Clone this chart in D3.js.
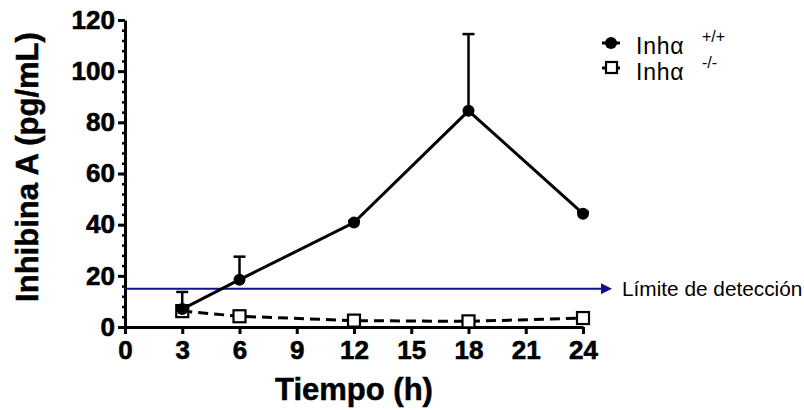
<!DOCTYPE html>
<html>
<head>
    <meta charset="utf-8">
    <script src="https://cdn.jsdelivr.net/npm/d3@7/dist/d3.min.js"></script>
</head>
<body style="margin:0;background:#fff">
    <style type="text/css">
        text {
            font-family: "Liberation Sans", Arial, Helvetica, sans-serif;
        }
        .axis path,
        .axis line {
            stroke: #000;
            stroke-width: 3px;
        }
        .axis text {
            font-size: 26px;
            font-weight: bold;
            fill: #000;
            stroke: #000;
            stroke-width: 0.6px;
        }
        .title {
            font-size: 31px;
            font-weight: bold;
            text-anchor: middle;
            stroke: #000;
            stroke-width: 0.5px;
        }
    </style>
    <svg id="chart"></svg>
    <script>
        // hours
        var tiempo = [3, 6, 12, 18, 24];
        // Inh alpha +/+  (mean, upper error)
        var wtMean = [7, 18.5, 40.8, 84.5, 44.3];
        var wtErr = [13.7, 27.5, 41.5, 114.5, 45];
        // Inh alpha -/-
        var koMean = [6.2, 4.2, 2.5, 2.2, 3.5];
        var xTicks = [0, 3, 6, 9, 12, 15, 18, 21, 24];
        var yTicks = [0, 20, 40, 60, 80, 100, 120];
        var limite = 15;

        var width = 804,
            height = 410;

        var svg = d3.select("#chart")
            .attr("width", width)
            .attr("height", height);

        var x = d3.scaleLinear()
            .domain([0, 24])
            .range([125, 583]);

        var y = d3.scaleLinear()
            .domain([0, 120])
            .range([327, 20]);

        // minor y ticks every 4
        svg.append("g")
            .attr("class", "axis minor")
            .attr("transform", "translate(" + x(0) + ",0)")
            .call(d3.axisLeft(y).tickValues(d3.range(0, 121, 4)).tickSize(3).tickFormat(""))
            .call(g => g.select(".domain").remove())
            .selectAll("line").style("stroke-width", "2.5px");

        var yAxis = d3.axisLeft(y)
            .tickValues(yTicks)
            .tickSize(7)
            .tickSizeOuter(0)
            .tickPadding(3);

        svg.append("g")
            .attr("class", "axis")
            .attr("transform", "translate(" + x(0) + ",0)")
            .call(yAxis);

        var xAxis = d3.axisBottom(x)
            .tickValues(xTicks)
            .tickSize(7)
            .tickSizeOuter(0)
            .tickPadding(7);

        svg.append("g")
            .attr("class", "axis")
            .attr("transform", "translate(0," + y(0) + ")")
            .call(xAxis);

        // detection limit
        svg.append("defs").append("marker")
            .attr("id", "arrow")
            .attr("viewBox", "0 0 10 10")
            .attr("refX", 0)
            .attr("refY", 5)
            .attr("markerWidth", 6.5)
            .attr("markerHeight", 5.5)
            .attr("orient", "auto")
            .append("path")
            .attr("d", "M0,0L10,5L0,10Z")
            .attr("fill", "#12128c");

        svg.append("line")
            .attr("x1", x(0))
            .attr("x2", 601)
            .attr("y1", y(limite))
            .attr("y2", y(limite))
            .attr("stroke", "#12128c")
            .attr("stroke-width", 2)
            .attr("marker-end", "url(#arrow)");

        svg.append("text")
            .attr("x", 622)
            .attr("y", y(limite) + 7)
            .style("font-size", "20.8px")
            .text("Límite de detección");

        var line = d3.line()
            .x(function(d) { return x(d[0]); })
            .y(function(d) { return y(d[1]); });

        var ko = d3.zip(tiempo, koMean);
        var wt = d3.zip(tiempo, wtMean, wtErr);

        // -/- series
        svg.append("path")
            .datum(ko)
            .attr("d", line)
            .attr("fill", "none")
            .attr("stroke", "#000")
            .attr("stroke-width", 3)
            .attr("stroke-dasharray", "10,6");

        svg.selectAll(".sq")
            .data(ko)
            .enter()
            .append("rect")
            .attr("class", "sq")
            .attr("x", d => x(d[0]) - 6)
            .attr("y", d => y(d[1]) - 6)
            .attr("width", 12)
            .attr("height", 12)
            .attr("fill", "#fff")
            .attr("stroke", "#000")
            .attr("stroke-width", 2.2);

        // +/+ series error bars
        var eb = svg.selectAll(".eb")
            .data(wt)
            .enter()
            .append("g")
            .attr("class", "eb");

        eb.append("line")
            .attr("x1", d => x(d[0]))
            .attr("x2", d => x(d[0]))
            .attr("y1", d => y(d[1]))
            .attr("y2", d => y(d[2]))
            .attr("stroke", "#000")
            .attr("stroke-width", 2.5);

        eb.append("line")
            .attr("x1", d => x(d[0]) - 6)
            .attr("x2", d => x(d[0]) + 6)
            .attr("y1", d => y(d[2]))
            .attr("y2", d => y(d[2]))
            .attr("stroke", "#000")
            .attr("stroke-width", 2.5);

        svg.append("path")
            .datum(wt)
            .attr("d", line)
            .attr("fill", "none")
            .attr("stroke", "#000")
            .attr("stroke-width", 3);

        svg.selectAll(".dot")
            .data(wt)
            .enter()
            .append("circle")
            .attr("class", "dot")
            .attr("cx", d => x(d[0]))
            .attr("cy", d => y(d[1]))
            .attr("r", 6)
            .attr("fill", "#000");

        // axis titles
        svg.append("text")
            .attr("class", "title")
            .attr("transform", "rotate(-90)")
            .attr("x", -167)
            .attr("y", 38)
            .text("Inhibina A (pg/mL)");

        svg.append("text")
            .attr("class", "title")
            .attr("x", 354)
            .attr("y", 400)
            .text("Tiempo (h)");

        // legend
        var legend = svg.append("g").attr("transform", "translate(611,0)");

        legend.append("line")
            .attr("x1", -9).attr("x2", 9)
            .attr("y1", 43).attr("y2", 43)
            .attr("stroke", "#000").attr("stroke-width", 3);
        legend.append("circle")
            .attr("cx", 0).attr("cy", 43).attr("r", 6).attr("fill", "#000");

        legend.append("line")
            .attr("x1", -9).attr("x2", 9)
            .attr("y1", 68).attr("y2", 68)
            .attr("stroke", "#000").attr("stroke-width", 3);
        legend.append("rect")
            .attr("x", -5).attr("y", 62).attr("width", 11).attr("height", 11)
            .attr("fill", "#fff").attr("stroke", "#000").attr("stroke-width", 2.2);

        var labels = [["+/+", 54], ["-/-", 80]];
        labels.forEach(function(l) {
            legend.append("text")
                .attr("x", 25)
                .attr("y", l[1])
                .style("font-size", "23px")
                .style("letter-spacing", "0.8px")
                .text("Inhα");
            legend.append("text")
                .attr("x", 91)
                .attr("y", l[1] - 12)
                .style("font-size", "16px")
                .text(l[0]);
        });
    </script>
</body>
</html>
